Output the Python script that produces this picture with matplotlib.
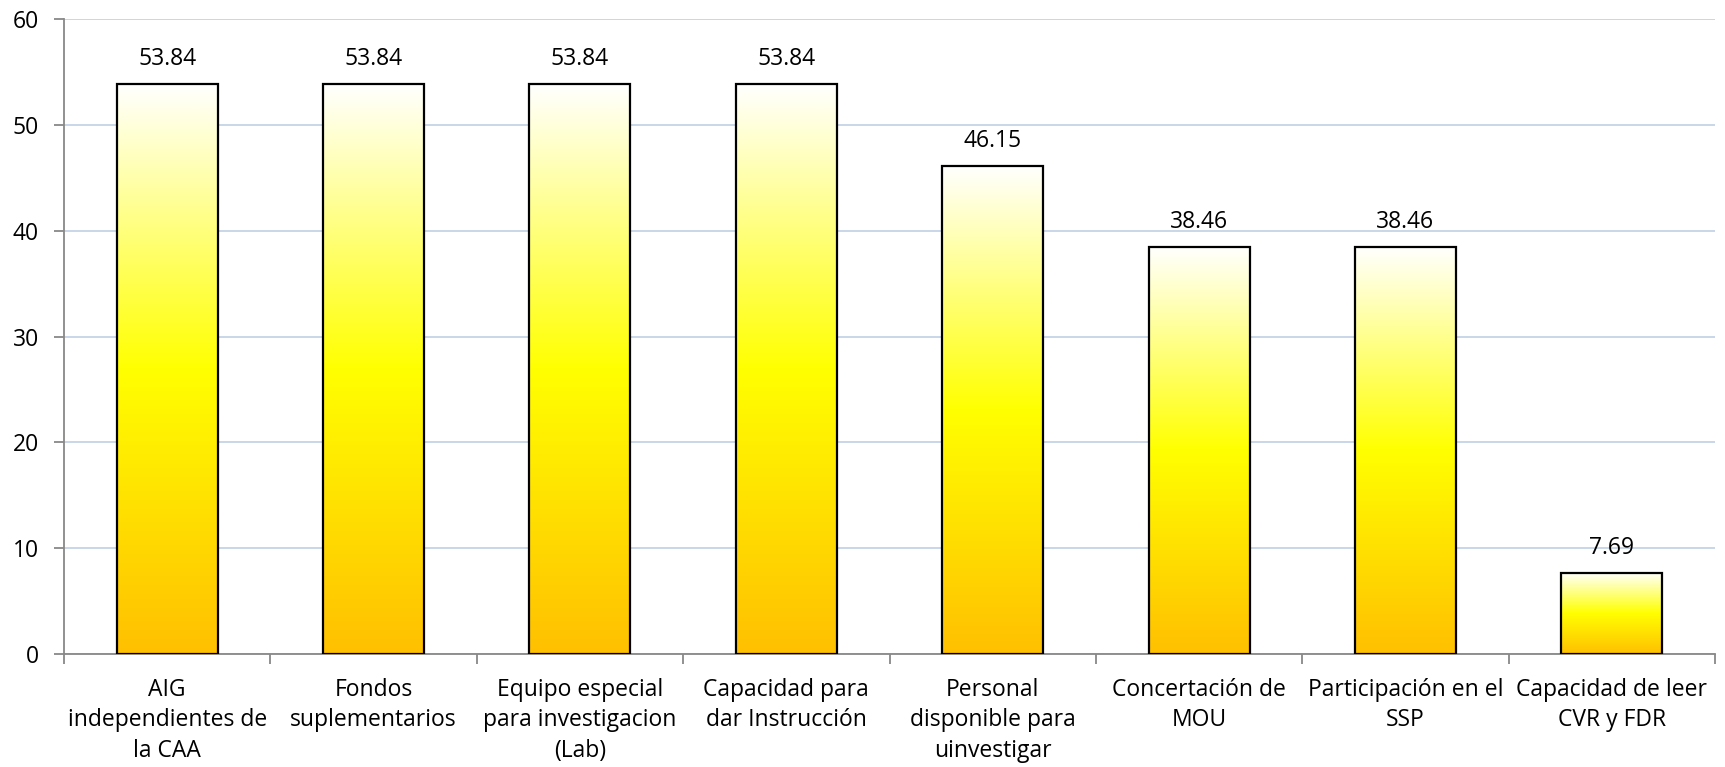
import numpy as np
import matplotlib.pyplot as plt
from matplotlib.colors import LinearSegmentedColormap

categories = ['AIG\nindependientes de\nla CAA', 'Fondos\nsuplementarios',
              'Equipo especial\npara investigacion\n(Lab)', 'Capacidad para\ndar Instrucción',
              'Personal\ndisponible para\nuinvestigar', 'Concertación de\nMOU',
              'Participación en el\nSSP', 'Capacidad de leer\nCVR y FDR']
values = [53.84, 53.84, 53.84, 53.84, 46.15, 38.46, 38.46, 7.69]
value_labels = ['53.84', '53.84', '53.84', '53.84', '46.15', '38.46', '38.46', '7.69']

plt.rcParams['font.family'] = ['Open Sans', 'DejaVu Sans']

fig = plt.figure(figsize=(17.25, 7.67), dpi=100)
# axes box: x 64..1715 px, y 19..654 px
ax = fig.add_axes([64 / 1725, 1 - 654 / 767, 1651 / 1725, 635 / 767])

cmap = LinearSegmentedColormap.from_list('grad', ['#FFC000', '#FFFF00', '#FFFFFF'])
grad = np.linspace(0, 1, 256).reshape(-1, 1)

x = np.arange(len(values))
w = 0.49
for xi, v, lab in zip(x, values, value_labels):
    ax.imshow(grad, cmap=cmap, origin='lower', aspect='auto',
              extent=(xi - w / 2, xi + w / 2, 0, v), zorder=2)
    ax.bar(xi, v, width=w, facecolor='none', edgecolor='black', linewidth=1.6, zorder=3)
    ax.text(xi, v + 1.8, lab, ha='center', va='baseline', fontsize=16.5)

ax.set_xlim(-0.5, len(values) - 0.5)
ax.set_ylim(0, 60)
ax.set_yticks(range(0, 61, 10))
ax.yaxis.grid(True, color='#C5D3E6', linewidth=1.3, zorder=0)
ax.set_axisbelow(True)

ax.set_xticks(x)
ax.set_xticklabels(categories, fontsize=16.5, linespacing=1.38)
ax.set_xticks(np.arange(-0.5, len(values), 1), minor=True)
ax.tick_params(axis='x', which='major', length=0, pad=17)
ax.tick_params(axis='x', which='minor', length=7, color='#888888', width=1.3)
ax.tick_params(axis='y', length=7, color='#888888', width=1.3, labelsize=16.5, pad=11)

for s in ['top', 'right']:
    ax.spines[s].set_visible(False)
for s in ['left', 'bottom']:
    ax.spines[s].set_color('#888888')
    ax.spines[s].set_linewidth(1.3)

fig.savefig('out.png', dpi=100)
